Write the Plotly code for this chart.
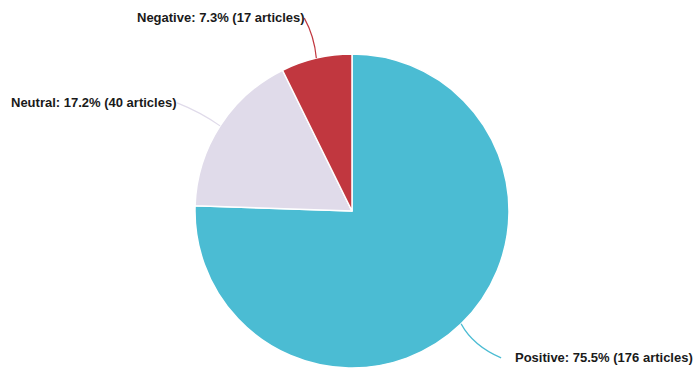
import math
import plotly.graph_objects as go

labels = ["Positive", "Neutral", "Negative"]
counts = [176, 40, 17]
colors = ["#4bbcd3", "#e0dbea", "#c1373f"]

W, H = 696, 371
CX, CY, R = 352, 211, 157


def P(px, py):
    return px / W, 1 - py / H


x0, y1 = P(CX - R, CY - R)
x1, y0 = P(CX + R, CY + R)

fig = go.Figure(go.Pie(
    labels=labels, values=counts, sort=False, direction="clockwise", rotation=0,
    marker=dict(colors=colors, line=dict(color="white", width=1.5)),
    textinfo="none", hoverinfo="label+percent", showlegend=False,
    domain=dict(x=[x0, x1], y=[y0, y1]),
))

layout_cfg = {
    "Positive": dict(end=(40, 34), ctrl=(12, 22), text=(12, 0), xanchor="left"),
    "Neutral": dict(end=(-43, -23), ctrl=(-20, -14), text=(1, 0), xanchor="right"),
    "Negative": dict(end=(-12, -40), ctrl=(-2, -22), text=(3, -1), xanchor="right"),
}

total = sum(counts)
cum = 0
shapes, annotations = [], []
for lab, c, col in zip(labels, counts, colors):
    mid = (cum + c / 2) / total * 2 * math.pi
    cum += c
    ex, ey = CX + R * math.sin(mid), CY - R * math.cos(mid)
    cfg = layout_cfg[lab]
    qx, qy = ex + cfg["ctrl"][0], ey + cfg["ctrl"][1]
    tx, ty = ex + cfg["end"][0], ey + cfg["end"][1]
    a, b = P(ex, ey)
    q1, q2 = P(qx, qy)
    t1, t2 = P(tx, ty)
    shapes.append(dict(type="path", xref="paper", yref="paper",
                       path=f"M {a} {b} Q {q1} {q2} {t1} {t2}",
                       line=dict(color=col, width=1.2)))
    lx, ly = P(tx + cfg["text"][0], ty + cfg["text"][1])
    pct = c / total * 100
    annotations.append(dict(
        x=lx, y=ly, xref="paper", yref="paper", showarrow=False,
        xanchor=cfg["xanchor"], yanchor="middle",
        text=f"<b>{lab}: {pct:.1f}% ({c} articles)</b>",
        font=dict(family="Liberation Sans, Arial, sans-serif", size=13, color="#1a1a1a"),
    ))

fig.update_layout(
    width=W, height=H, margin=dict(l=0, r=0, t=0, b=0),
    paper_bgcolor="white", plot_bgcolor="white",
    shapes=shapes, annotations=annotations,
)
fig.write_html(
    "out.html",
    config={"displayModeBar": False},
    post_script="document.body.style.margin='0';document.body.style.overflow='hidden';",
)
